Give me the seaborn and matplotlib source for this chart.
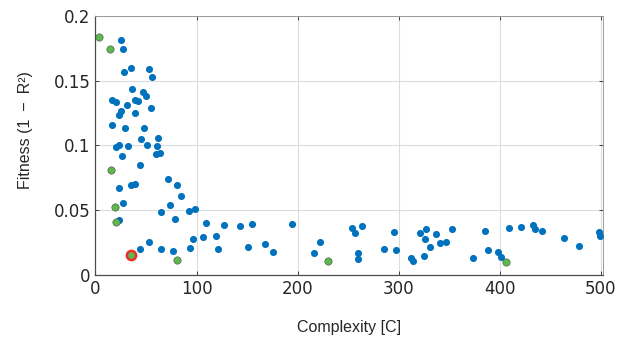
import numpy as np
import pandas as pd
import seaborn as sns
import matplotlib.pyplot as plt

# candidate models (blue)
cand_x = [24.9, 26.8, 27.8, 35.0, 52.8, 55.8, 35.7, 46.6, 49.9, 16.6, 19.9, 38.7, 41.7,
          30.8, 54.8, 24.9, 23.5, 39.0, 16.0, 28.8, 47.9, 62.0, 44.9, 19.9, 23.5, 31.8,
          50.5, 61.0, 26.2, 59.7, 64.0, 43.9, 71.9, 23.5, 35.0, 39.0, 80.2, 84.1, 26.8,
          74.2, 65.3, 92.6, 98.9, 22.9, 78.2, 109.0, 127.2, 143.3, 154.8, 194.3, 96.6,
          106.8, 119.0, 52.8, 43.9, 65.0, 76.5, 93.6, 121.2, 151.2, 167.6, 175.9,
          222.3, 216.4, 253.9, 256.5, 263.4, 259.8, 259.8, 285.5, 295.7, 297.3, 312.4,
          314.4, 320.6, 327.3, 326.2, 336.4, 330.9, 324.6, 340.4, 346.7, 352.6, 373.7,
          385.2, 387.8, 398.0, 401.0, 408.9, 420.7, 433.1, 434.8, 442.0, 463.8, 477.9,
          498.0, 499.3]
cand_y = [0.1813, 0.1743, 0.1569, 0.1595, 0.1587, 0.1528, 0.1433, 0.1412, 0.1384, 0.1351,
          0.1333, 0.1353, 0.1345, 0.1312, 0.1287, 0.1263, 0.1237, 0.1248, 0.1158, 0.1135,
          0.1137, 0.1060, 0.1050, 0.0986, 0.1004, 0.0996, 0.1004, 0.0996, 0.0919, 0.0935,
          0.0945, 0.0852, 0.0744, 0.0675, 0.0696, 0.0706, 0.0696, 0.0609, 0.0557, 0.0539,
          0.0488, 0.0498, 0.0513, 0.0426, 0.0431, 0.0400, 0.0385, 0.0382, 0.0393, 0.0393,
          0.0282, 0.0297, 0.0305, 0.0257, 0.0205, 0.0203, 0.0185, 0.0213, 0.0203, 0.0218,
          0.0244, 0.0177, 0.0259, 0.0169, 0.0362, 0.0323, 0.0382, 0.0172, 0.0123, 0.0205,
          0.0331, 0.0193, 0.0131, 0.0110, 0.0323, 0.0357, 0.0280, 0.0316, 0.0218, 0.0146,
          0.0246, 0.0259, 0.0357, 0.0136, 0.0339, 0.0195, 0.0177, 0.0141, 0.0367, 0.0370,
          0.0388, 0.0357, 0.0339, 0.0290, 0.0226, 0.0334, 0.0303]

# pareto front (green)
pareto_x = [3.5, 14.0, 15.0, 19.0, 20.6, 35.0, 81.1, 229.8, 405.9]
pareto_y = [0.1836, 0.1746, 0.0814, 0.0526, 0.0413, 0.0156, 0.0118, 0.0110, 0.0105]

# selected model
sel_x = [35.0]
sel_y = [0.0156]

df = pd.DataFrame({
    'Complexity': cand_x + pareto_x,
    'Fitness': cand_y + pareto_y,
    'group': ['cand'] * len(cand_x) + ['pareto'] * len(pareto_x),
})

sns.set_style('whitegrid')
plt.rcParams['font.family'] = ['DejaVu Sans']

fig, ax = plt.subplots(figsize=(6.18, 3.47), dpi=100)
fig.subplots_adjust(left=0.1545, right=0.9757, top=0.9548, bottom=0.2066)

sns.scatterplot(data=df[df.group == 'cand'], x='Complexity', y='Fitness', color='#0072BD',
                s=26, linewidth=0, ax=ax, zorder=3)
sns.scatterplot(data=df[df.group == 'pareto'], x='Complexity', y='Fitness', color='#5DB84D',
                s=28, edgecolor='#4a4a4a', linewidth=0.4, ax=ax, zorder=4)
sns.scatterplot(x=sel_x, y=sel_y, color='#5DB84D', s=44, edgecolor='#E8302A',
                linewidth=1.8, ax=ax, zorder=5)

ax.set_xlim(0, 502)
ax.set_ylim(0, 0.2)
ax.set_xticks([0, 100, 200, 300, 400, 500])
ax.set_yticks([0, 0.05, 0.1, 0.15, 0.2])
ax.set_yticklabels(['0', '0.05', '0.1', '0.15', '0.2'])
ax.tick_params(labelsize=12, colors='#262626', direction='in', length=3, width=0.6,
               left=True, bottom=True, right=True, top=True)
ax.grid(True, color='#dcdcdc', linewidth=0.8)
for side in ['left', 'bottom']:
    ax.spines[side].set_color('#4d4d4d')
    ax.spines[side].set_linewidth(0.9)
for side in ['right', 'top']:
    ax.spines[side].set_color('#9a9a9a')
    ax.spines[side].set_linewidth(0.7)

ax.set_xlabel('Complexity [C]', family='Liberation Sans', fontsize=11.5, color='#262626', labelpad=16)
ax.set_ylabel('Fitness (1\u2002\u2212\u2002R\u00b2)', family='Liberation Sans', fontsize=11.5,
              color='#262626')
ax.yaxis.set_label_coords(-0.123, 0.56)

plt.savefig('out.png', dpi=100)
